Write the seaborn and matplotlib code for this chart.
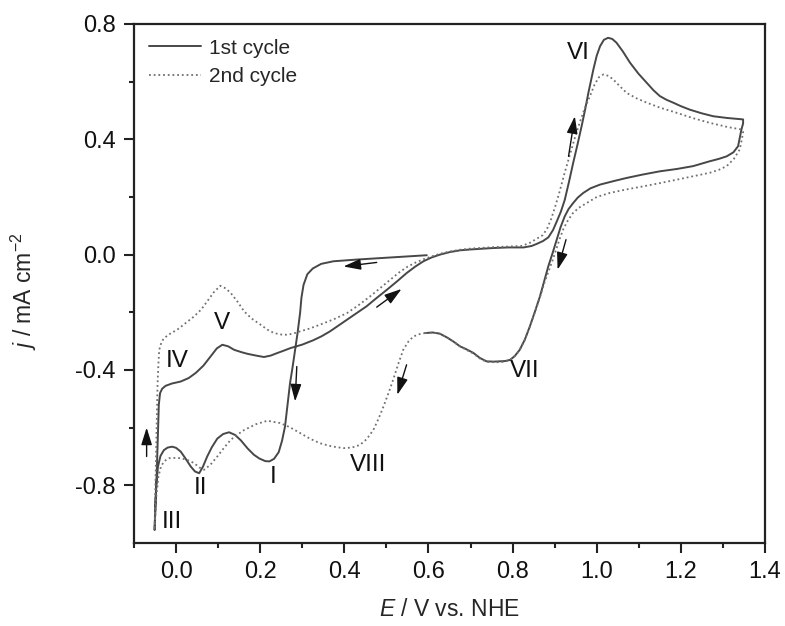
import numpy as np
import pandas as pd
import matplotlib
matplotlib.use("Agg")
import matplotlib.pyplot as plt
import seaborn as sns

# cycle 1: start at 0.6 V, cathodic sweep to -0.05 V, anodic to 1.35 V, back to 0.6 V
e1 = [0.596, 0.54, 0.485, 0.43, 0.374, 0.345, 0.325, 0.312, 0.303, 0.298, 0.295, 0.289, 0.283, 0.277,
      0.271, 0.265, 0.259, 0.252, 0.244, 0.233, 0.222, 0.212, 0.198, 0.185, 0.17, 0.154, 0.14, 0.126,
      0.112, 0.098, 0.085, 0.074, 0.064, 0.055, 0.045, 0.035, 0.022, 0.011, 0.0, -0.009, -0.02, -0.029,
      -0.037, -0.043, -0.047, -0.049, -0.051,
      -0.049, -0.046, -0.043, -0.041, -0.038, -0.033, -0.025, -0.01, 0.011, 0.03, 0.047, 0.065, 0.082,
      0.097, 0.110, 0.124, 0.138, 0.155, 0.17, 0.19, 0.209, 0.225, 0.241, 0.256, 0.272, 0.30, 0.326,
      0.346, 0.366, 0.386, 0.406, 0.43, 0.453, 0.477, 0.501, 0.525, 0.548, 0.568, 0.588, 0.607, 0.627,
      0.651, 0.675, 0.70, 0.722, 0.754, 0.79, 0.826, 0.845, 0.857, 0.872, 0.885, 0.896, 0.905, 0.915,
      0.924, 0.934, 0.944, 0.954, 0.964, 0.972, 0.98, 0.992, 1.0, 1.008, 1.017, 1.027, 1.037, 1.047,
      1.062, 1.079, 1.099, 1.119, 1.135, 1.15, 1.166, 1.182, 1.2, 1.221, 1.25, 1.277, 1.31, 1.348,
      1.348, 1.344, 1.336, 1.325, 1.309, 1.29, 1.269, 1.229, 1.19, 1.15, 1.11, 1.071, 1.04, 1.008,
      0.985, 0.968, 0.955, 0.944, 0.933, 0.924, 0.914, 0.905, 0.895, 0.885, 0.875, 0.865, 0.853, 0.841,
      0.829, 0.817, 0.805, 0.794, 0.782, 0.77, 0.755, 0.738, 0.722, 0.707, 0.69, 0.675, 0.66, 0.645,
      0.627, 0.61, 0.592]
j1 = [-0.002, -0.007, -0.012, -0.017, -0.023, -0.032, -0.048, -0.068, -0.105, -0.15, -0.20, -0.27,
      -0.33, -0.39, -0.445, -0.52, -0.596, -0.645, -0.685, -0.708, -0.717, -0.716, -0.707, -0.694,
      -0.672, -0.644, -0.625, -0.616, -0.622, -0.638, -0.668, -0.70, -0.735, -0.758, -0.752, -0.735,
      -0.706, -0.683, -0.67, -0.666, -0.669, -0.678, -0.698, -0.735, -0.80, -0.87, -0.955,
      -0.86, -0.76, -0.62, -0.52, -0.48, -0.465, -0.455, -0.447, -0.44, -0.428, -0.41, -0.385, -0.353,
      -0.325, -0.3125, -0.318, -0.33, -0.338, -0.344, -0.35, -0.355, -0.35, -0.341, -0.333, -0.324,
      -0.312, -0.297, -0.283, -0.266, -0.246, -0.226, -0.202, -0.179, -0.15, -0.122, -0.093, -0.064,
      -0.042, -0.023, -0.01, 0.0, 0.009, 0.015, 0.018, 0.02, 0.023, 0.025, 0.025, 0.03, 0.037, 0.047,
      0.06, 0.085, 0.115, 0.15, 0.19, 0.252, 0.318, 0.38, 0.445, 0.50, 0.56, 0.642, 0.69, 0.723, 0.745,
      0.752, 0.748, 0.735, 0.705, 0.666, 0.628, 0.596, 0.57, 0.55, 0.537, 0.527, 0.515, 0.503, 0.49,
      0.48, 0.474, 0.469,
      0.455, 0.434, 0.376, 0.355, 0.341, 0.332, 0.324, 0.307, 0.297, 0.289, 0.278, 0.266, 0.255, 0.243,
      0.23, 0.214, 0.198, 0.179, 0.158, 0.133, 0.095, 0.052, 0.005, -0.04, -0.093, -0.145, -0.198,
      -0.249, -0.295, -0.33, -0.352, -0.365, -0.369, -0.37, -0.371, -0.37, -0.358, -0.341, -0.328,
      -0.318, -0.302, -0.288, -0.274, -0.27, -0.272]

# cycle 2: continues from 0.6 V
e2 = [0.592, 0.578, 0.564, 0.552, 0.54, 0.528, 0.516, 0.505, 0.493, 0.481, 0.469, 0.453, 0.437, 0.418,
      0.398, 0.37, 0.342, 0.318, 0.295, 0.27, 0.247, 0.217, 0.19, 0.162, 0.146, 0.13, 0.114, 0.098,
      0.082, 0.067, 0.055, 0.043, 0.027, 0.011, -0.005, -0.017, -0.028, -0.036, -0.042, -0.047, -0.051,
      -0.05, -0.047, -0.044, -0.042, -0.040, -0.035, -0.029, -0.015, 0.003, 0.023, 0.043, 0.06, 0.074,
      0.09, 0.105, 0.118, 0.130, 0.146, 0.162, 0.18, 0.201, 0.217, 0.233, 0.25, 0.265, 0.28, 0.295,
      0.318, 0.342, 0.375, 0.406, 0.434, 0.461, 0.485, 0.509, 0.53, 0.55, 0.57, 0.59, 0.61, 0.627,
      0.651, 0.675, 0.70, 0.722, 0.754, 0.79, 0.82, 0.84, 0.857, 0.872, 0.882, 0.892, 0.902, 0.912,
      0.924, 0.936, 0.948, 0.96, 0.972, 0.984, 0.995, 1.005, 1.016, 1.028, 1.039, 1.055, 1.071, 1.095,
      1.119, 1.15, 1.19, 1.23, 1.269, 1.31, 1.344, 1.348,
      1.345, 1.34, 1.326, 1.309, 1.29, 1.269, 1.23, 1.19, 1.15, 1.111, 1.07, 1.031, 1.0, 0.976, 0.958,
      0.944, 0.932, 0.921, 0.912, 0.903, 0.895, 0.885, 0.875, 0.865, 0.853, 0.841, 0.829, 0.817, 0.805,
      0.794, 0.782, 0.77, 0.755, 0.738, 0.722, 0.707, 0.69, 0.675, 0.66, 0.645, 0.627, 0.61, 0.592]
j2 = [-0.272, -0.276, -0.284, -0.302, -0.33, -0.38, -0.434, -0.48, -0.527, -0.57, -0.608, -0.64,
      -0.66, -0.669, -0.671, -0.665, -0.654, -0.638, -0.619, -0.598, -0.584, -0.576, -0.588, -0.608,
      -0.624, -0.642, -0.67, -0.70, -0.728, -0.746, -0.738, -0.723, -0.712, -0.706, -0.705, -0.706,
      -0.716, -0.735, -0.77, -0.84, -0.955,
      -0.86, -0.65, -0.45, -0.38, -0.33, -0.305, -0.29, -0.275, -0.26, -0.237, -0.214, -0.19, -0.162,
      -0.13, -0.108, -0.117, -0.133, -0.163, -0.197, -0.222, -0.243, -0.26, -0.272, -0.277, -0.278,
      -0.273, -0.266, -0.256, -0.243, -0.224, -0.203, -0.175, -0.145, -0.116, -0.087, -0.062, -0.042,
      -0.027, -0.015, -0.005, 0.003, 0.011, 0.017, 0.021, 0.023, 0.026, 0.028, 0.03, 0.04, 0.055, 0.068,
      0.09, 0.125, 0.17, 0.22, 0.285, 0.345, 0.405, 0.46, 0.51, 0.55, 0.59, 0.615, 0.625, 0.62, 0.608,
      0.584, 0.561, 0.542, 0.527, 0.51, 0.492, 0.473, 0.457, 0.443, 0.434, 0.425,
      0.40, 0.365, 0.332, 0.307, 0.294, 0.284, 0.272, 0.26, 0.248, 0.237, 0.226, 0.214, 0.2, 0.179,
      0.163, 0.145, 0.12, 0.09, 0.055, 0.015, -0.02, -0.06, -0.1, -0.148, -0.2, -0.25, -0.295, -0.33,
      -0.352, -0.365, -0.371, -0.373, -0.373, -0.372, -0.36, -0.343, -0.33, -0.318, -0.302, -0.288,
      -0.274, -0.27, -0.272]

peak_labels = ["I", "II", "III", "IV", "V", "VI", "VII", "VIII"]
peak_e = [0.231, 0.059, -0.011, 0.003, 0.108, 0.956, 0.829, 0.457]
peak_j = [-0.77, -0.81, -0.926, -0.37, -0.237, 0.70, -0.405, -0.729]

# sweep direction arrows (tail -> head)
arrow_tail = [(0.477, -0.027), (0.477, -0.182), (0.287, -0.388), (0.548, -0.382),
              (-0.07, -0.70), (0.933, 0.341), (0.927, 0.052)]
arrow_head = [(0.398, -0.041), (0.536, -0.119), (0.283, -0.509), (0.526, -0.486),
              (-0.07, -0.60), (0.948, 0.48), (0.907, -0.052)]

sns.set_style("ticks")
plt.rcParams["font.family"] = ["Liberation Sans", "DejaVu Sans"]
plt.rcParams["mathtext.fontset"] = "custom"
plt.rcParams["mathtext.rm"] = "Liberation Sans"
plt.rcParams["mathtext.it"] = "Liberation Sans:italic"

fig = plt.figure(figsize=(7.85, 6.26), dpi=100)
ax = fig.add_axes([0.1707, 0.1326, 0.8038, 0.8291])

sns.lineplot(x=e1, y=j1, sort=False, estimator=None, color="#474747", linewidth=1.4, ax=ax,
             label="1st cycle")
sns.lineplot(x=e2, y=j2, sort=False, estimator=None, color="#707070", linewidth=1.3,
             linestyle=(0, (1, 1.6)), ax=ax, label="2nd cycle")

for lab, x, y in zip(peak_labels, peak_e, peak_j):
    ax.text(x, y, lab, ha="center", va="center", fontsize=17.5, color="#111111")

for t, h in zip(arrow_tail, arrow_head):
    ax.annotate("", xy=h, xytext=t,
                arrowprops=dict(arrowstyle="-|>,head_length=0.7,head_width=0.22", color="#111111",
                                lw=1.0, mutation_scale=15, shrinkA=0, shrinkB=0))

ax.set_xlim(-0.1, 1.4)
ax.set_ylim(-1.0, 0.8)
ax.set_xticks([0.0, 0.2, 0.4, 0.6, 0.8, 1.0, 1.2, 1.4])
ax.set_xticks(np.arange(-0.1, 1.35, 0.2), minor=True)
ax.set_yticks([-0.8, -0.4, 0.0, 0.4, 0.8])
ax.set_yticks([-0.6, -0.2, 0.2, 0.6], minor=True)
ax.xaxis.set_major_formatter(matplotlib.ticker.FormatStrFormatter("%.1f"))
ax.yaxis.set_major_formatter(matplotlib.ticker.FormatStrFormatter("%.1f"))

ax.tick_params(which="major", direction="out", length=7, width=1.5, labelsize=17, pad=6,
               color="#222222", labelcolor="#111111")
ax.tick_params(which="minor", direction="out", length=3.5, width=1.5, color="#222222")
for s in ax.spines.values():
    s.set_linewidth(1.6)
    s.set_color("#222222")

ax.set_xlabel("$E$ / V vs. NHE", fontsize=16.5, labelpad=11)
ax.set_ylabel("$j$ / mA cm$^{-2}$", fontsize=16.5)
ax.yaxis.set_label_coords(-0.15, 0.485)

ax.legend(loc="upper left", frameon=False, fontsize=15, handlelength=2.5, handletextpad=0.4,
          labelspacing=0.45, borderaxespad=0.3, bbox_to_anchor=(0.0, 1.0))

fig.savefig("out.png", dpi=100)
